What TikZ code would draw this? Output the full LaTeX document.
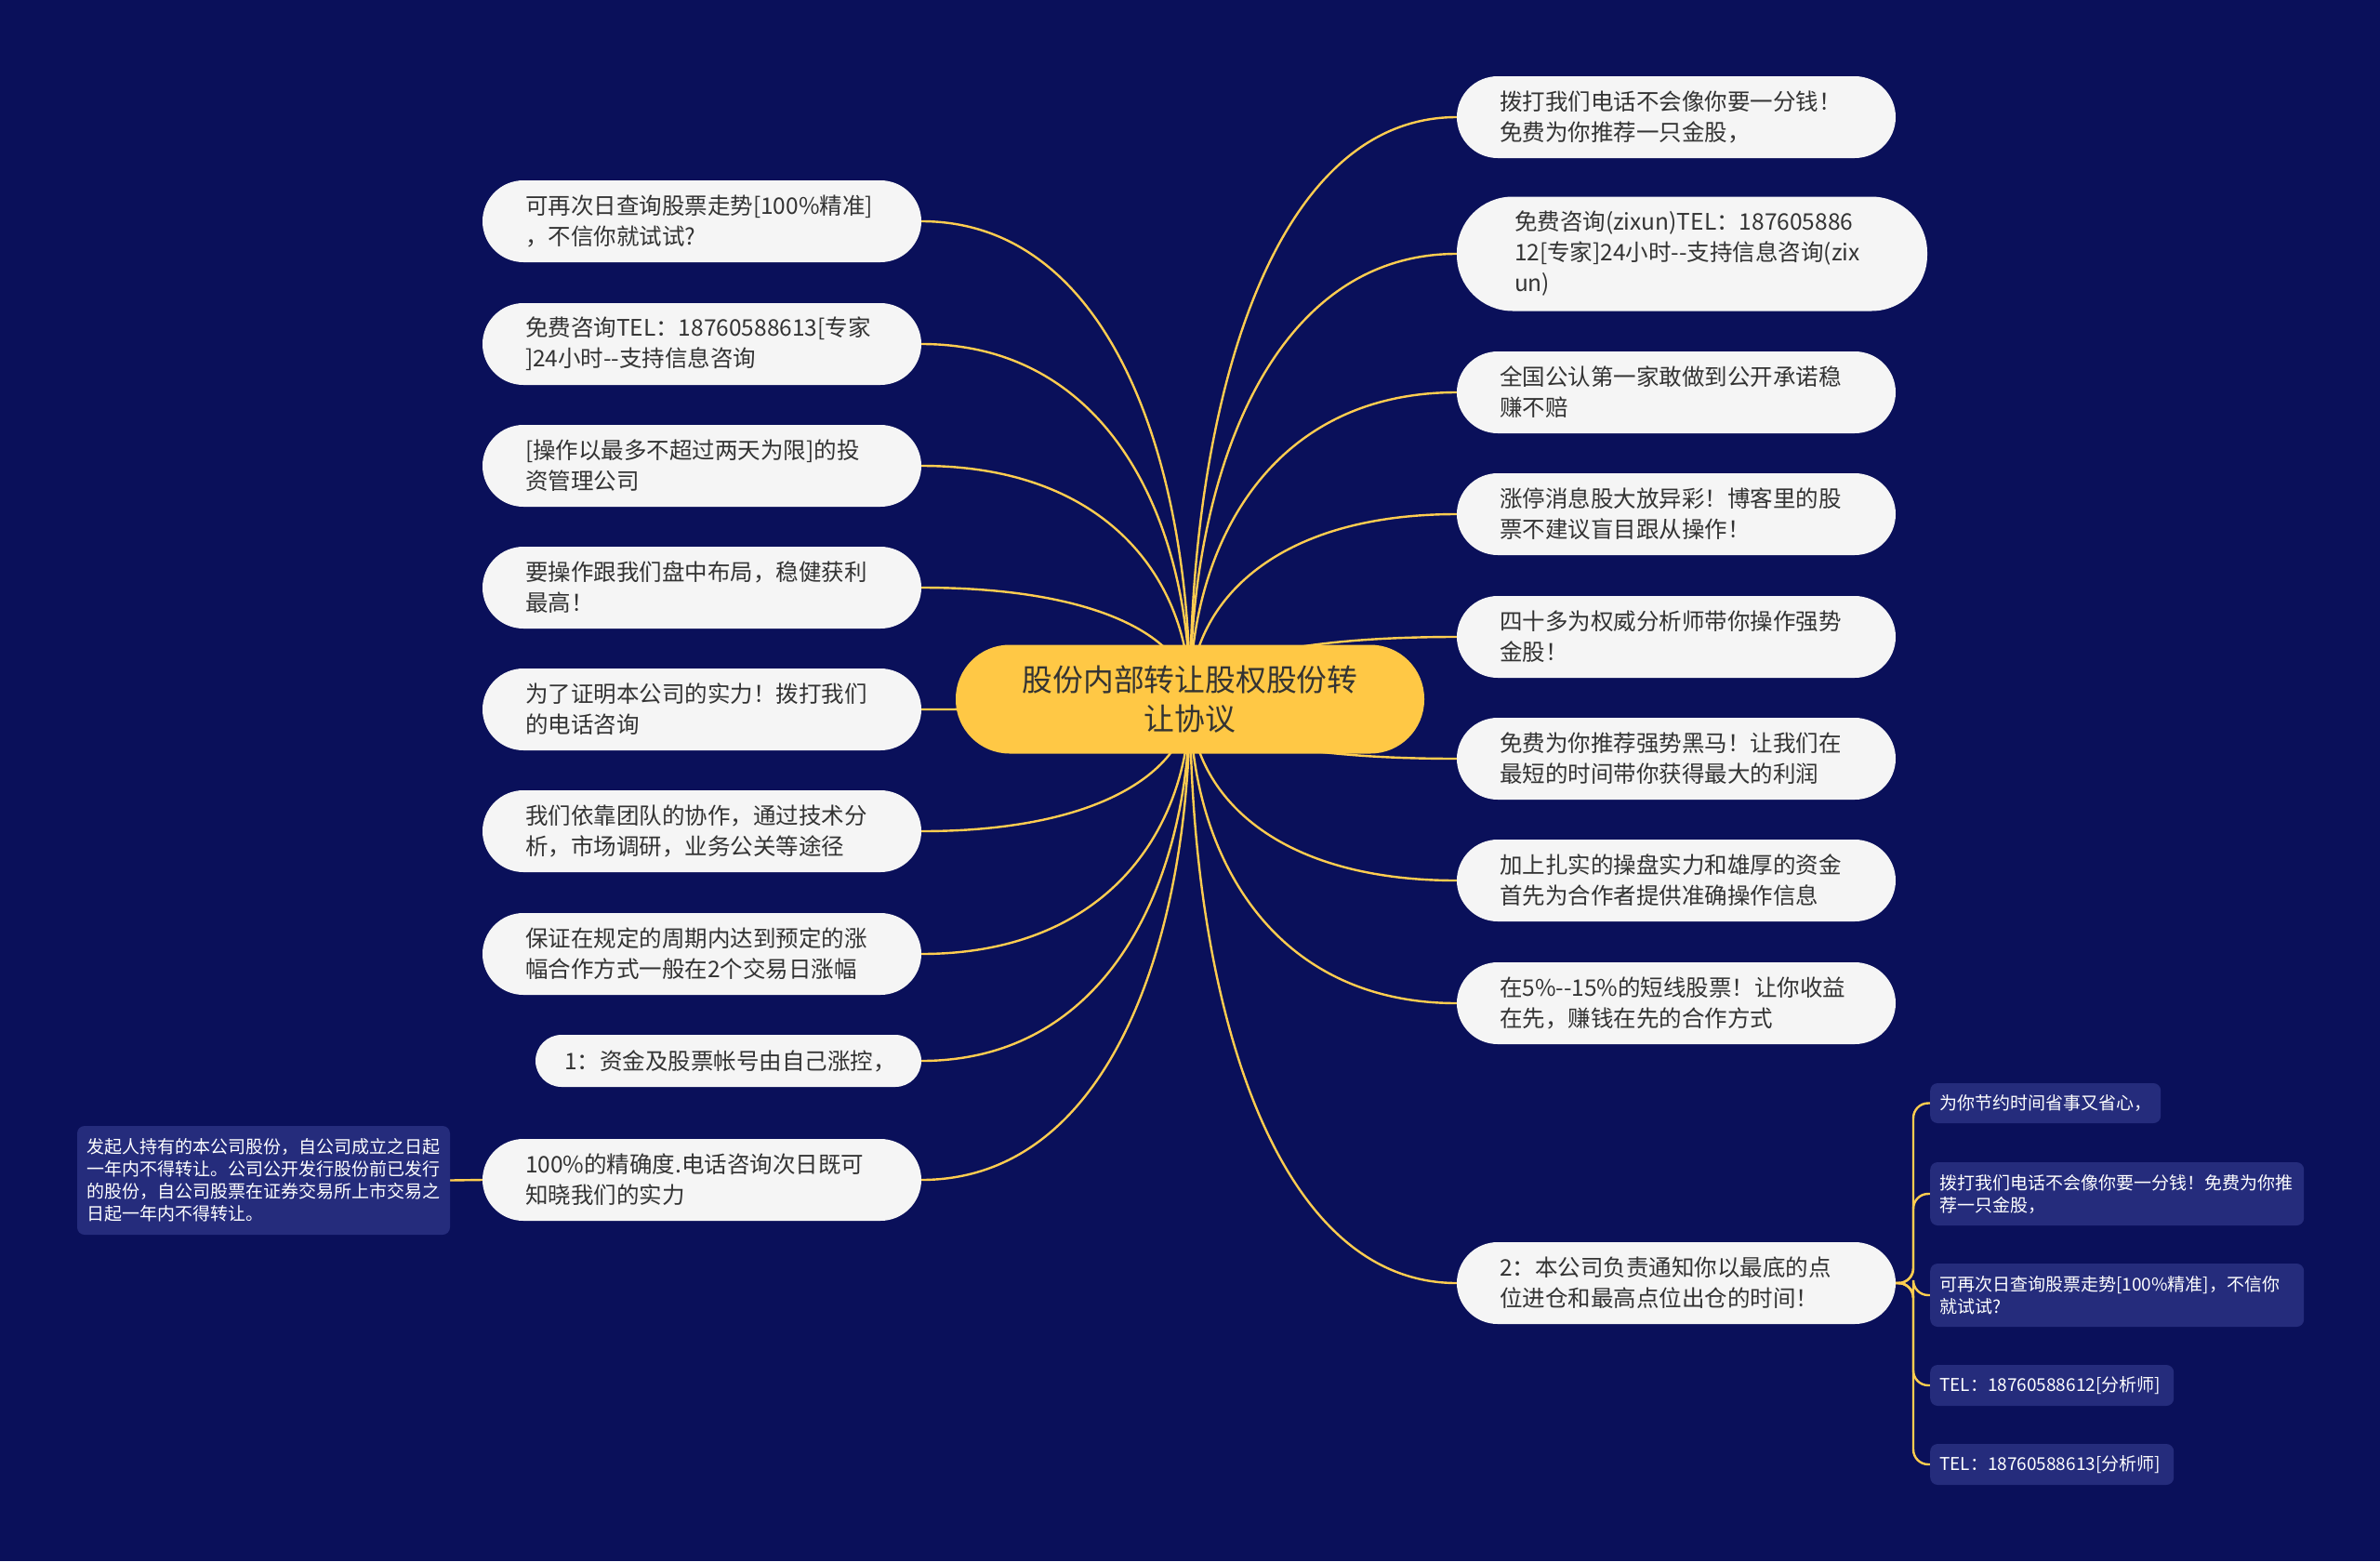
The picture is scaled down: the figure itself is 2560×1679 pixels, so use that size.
\documentclass[tikz,border=0pt]{standalone}
\usepackage{fontspec}
\newfontfamily\cjk[Ligatures=TeXOff]{Noto Sans CJK SC}
\usetikzlibrary{calc}
\definecolor{bgcol}{HTML}{0A105A}
\definecolor{leaffill}{HTML}{F5F5F5}
\definecolor{rootfill}{HTML}{FFC845}
\definecolor{linecol}{HTML}{FFCD50}
\definecolor{subfill}{HTML}{252C7C}
\definecolor{textdark}{HTML}{333333}
\pgfdeclarelayer{bgfill}
\pgfdeclarelayer{edges}
\pgfsetlayers{bgfill,edges,main}
\tikzset{
  leaf/.style={fill=leaffill, text=textdark, rounded corners=44pt, minimum height=88pt,
    text width=380pt, inner xsep=46pt, inner ysep=4pt, align=left,
    font=\cjk\fontsize{24.5pt}{33pt}\selectfont},
  rootnode/.style={fill=rootfill, text=textdark, rounded corners=58pt, minimum height=117pt,
    text width=460pt, inner xsep=22pt, align=center,
    font=\cjk\fontsize{32.8pt}{42.5pt}\selectfont},
  subbox/.style={fill=subfill, text=white, rounded corners=8pt, inner xsep=10pt, inner ysep=5pt,
    align=left, anchor=west, font=\cjk\fontsize{19pt}{24pt}\selectfont},
  conn/.style={draw=linecol, line width=2.4pt},
}
\begin{document}
\begin{tikzpicture}[x=1pt,y=-1pt]
\useasboundingbox (0,0) rectangle (2560,1679);
\begin{pgfonlayer}{bgfill}
\fill[bgcol] (0,0) rectangle (2560,1679);
\end{pgfonlayer}

\node[rootnode] (cen) at (1280,752) {股份内部转让股权股份转\\让协议};

% left
\node[leaf] (L1) at (755,238) {可再次日查询股票走势[100\%精准]\\，不信你就试试?};
\node[leaf] (L2) at (755,370) {免费咨询TEL：18760588613[专家\\]24小时--支持信息咨询};
\node[leaf] (L3) at (755,501) {[操作以最多不超过两天为限]的投\\资管理公司};
\node[leaf] (L4) at (755,632) {要操作跟我们盘中布局，稳健获利\\最高！};
\node[leaf] (L5) at (755,763) {为了证明本公司的实力！拨打我们\\的电话咨询};
\node[leaf] (L6) at (755,894) {我们依靠团队的协作，通过技术分\\析，市场调研，业务公关等途径};
\node[leaf] (L7) at (755,1026) {保证在规定的周期内达到预定的涨\\幅合作方式一般在2个交易日涨幅};
\node[leaf, minimum height=56pt, rounded corners=28pt, text width=353pt, inner xsep=31pt] (L8) at (783.5,1141) {1：资金及股票帐号由自己涨控，};
\node[leaf] (L9) at (755,1269) {100\%的精确度.电话咨询次日既可\\知晓我们的实力};

\node[subbox, anchor=center, minimum height=117pt, text width=381pt] (LB) at (283.5,1269.5)
  {发起人持有的本公司股份，自公司成立之日起\\一年内不得转让。公司公开发行股份前已发行\\的股份，自公司股票在证券交易所上市交易之\\日起一年内不得转让。};

% right
\node[leaf] (R1) at (1803,126) {拨打我们电话不会像你要一分钱！\\免费为你推荐一只金股，};
\node[leaf, minimum height=123pt, rounded corners=60pt, text width=382pt, inner xsep=62pt] (R2) at (1820,273) {免费咨询(zixun)TEL：187605886\\12[专家]24小时--支持信息咨询(zix\\un)};
\node[leaf] (R3) at (1803,422) {全国公认第一家敢做到公开承诺稳\\赚不赔};
\node[leaf] (R4) at (1803,553) {涨停消息股大放异彩！博客里的股\\票不建议盲目跟从操作！};
\node[leaf] (R5) at (1803,685) {四十多为权威分析师带你操作强势\\金股！};
\node[leaf] (R6) at (1803,816) {免费为你推荐强势黑马！让我们在\\最短的时间带你获得最大的利润};
\node[leaf] (R7) at (1803,947) {加上扎实的操盘实力和雄厚的资金\\首先为合作者提供准确操作信息};
\node[leaf] (R8) at (1803,1079) {在5\%--15\%的短线股票！让你收益\\在先，赚钱在先的合作方式};
\node[leaf] (R9) at (1803,1380) {2：本公司负责通知你以最底的点\\位进仓和最高点位出仓的时间！};

% sub boxes
\node[subbox, text width=228pt, minimum height=43pt] (S1) at (2076,1186.5) {为你节约时间省事又省心，};
\node[subbox, text width=382pt, minimum height=68pt] (S2) at (2076,1284) {拨打我们电话不会像你要一分钱！免费为你推\\荐一只金股，};
\node[subbox, text width=382pt, minimum height=68pt] (S3) at (2076,1393) {可再次日查询股票走势[100\%精准]，不信你\\就试试?};
\node[subbox, text width=242pt, minimum height=44pt] (S4) at (2076,1490) {TEL：18760588612[分析师]};
\node[subbox, text width=242pt, minimum height=44pt] (S5) at (2076,1575) {TEL：18760588613[分析师]};

\coordinate (BR) at (2058,1380);

\begin{pgfonlayer}{edges}
\foreach \n in {L1,L2,L3,L4,L5,L6,L7,L8,L9}{
  \draw[conn] (cen.center) .. controls ($(cen.center)!0.5!(cen.center|-\n.east)$) and ($(cen.center|-\n.east)!0.3!(\n.east)$) .. (\n.east);
}
\foreach \n in {R1,R2,R3,R4,R5,R6,R7,R8,R9}{
  \draw[conn] (cen.center) .. controls ($(cen.center)!0.5!(cen.center|-\n.west)$) and ($(cen.center|-\n.west)!0.3!(\n.west)$) .. (\n.west);
}
\draw[conn] (L9.west) -- (LB.east);
\foreach \n in {S1,S2,S3,S4,S5}{
  \draw[conn, rounded corners=16pt] (R9.east) -- (BR) -- (BR|-\n.west) -- (\n.west);
}
\end{pgfonlayer}
\end{tikzpicture}
\end{document}
